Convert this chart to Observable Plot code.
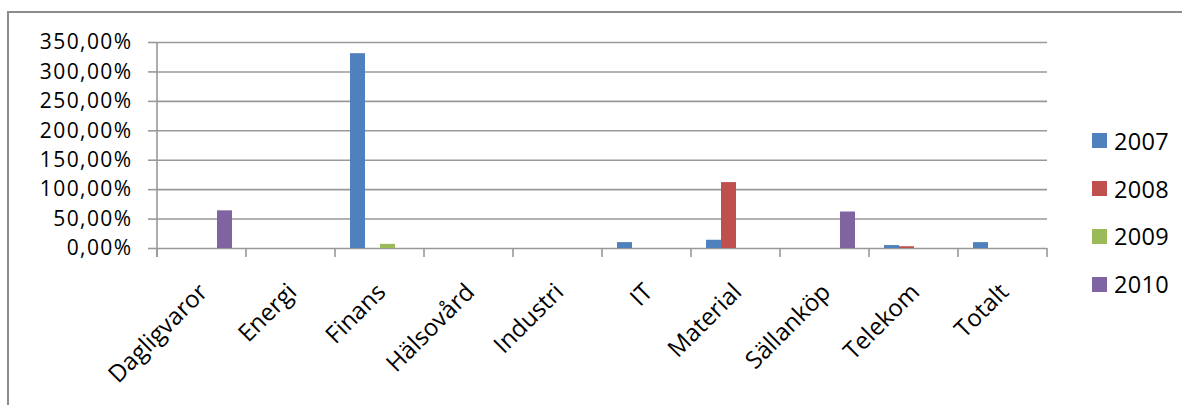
<!DOCTYPE html>
<html>
<head>
<meta charset="utf-8">
<script src="https://cdn.jsdelivr.net/npm/d3@7"></script>
<script src="https://cdn.jsdelivr.net/npm/@observablehq/plot@0.6"></script>
<style>
  html, body { margin: 0; padding: 0; background: #fff; overflow: hidden; }
  #wrap { position: relative; width: 1182px; height: 405px; overflow: hidden; font-family: "Open Sans", sans-serif; }
  #border { position: absolute; left: 7px; top: 11px; width: 1300px; height: 600px; border: 2px solid #8c8c8c; box-sizing: border-box; }
  #chart { position: absolute; left: 0; top: 0; }
  #legend { position: absolute; left: 1092px; top: 117px; }
  .item { display: flex; align-items: center; height: 47.8px; font-size: 23.5px; color: #000; letter-spacing: 0.3px; }
  .sw { width: 15px; height: 15px; margin-right: 7px; }
</style>
</head>
<body>
<div id="wrap">
  <div id="border"></div>
  <div id="chart"></div>
  <div id="legend"></div>
</div>
<script>
// Sectors on the category axis
const categories = ["Dagligvaror", "Energi", "Finans", "Hälsovård", "Industri", "IT", "Material", "Sällanköp", "Telekom", "Totalt"];
// Series (years) and their colours
const years = ["2007", "2008", "2009", "2010"];
const colors = ["#4F81BD", "#C0504D", "#9BBB59", "#8064A2"];
// Return per sector, in percent
const v2007 = [0, 0, 331, 0, 0, 10, 14, 0, 5, 10];
const v2008 = [0, 0, 0, 0, 0, 0, 112, 0, 3, 0];
const v2009 = [0, 0, 7, 0, 0, 0, 0, 0, 0, 0];
const v2010 = [64, 0, 0, 0, 0, 0, 0, 62, 0, 0];
// Value axis ticks
const yTicks = [0, 50, 100, 150, 200, 250, 300, 350];

const series = [v2007, v2008, v2009, v2010];
const rows = [];
series.forEach((vals, i) => vals.forEach((v, j) => rows.push({category: categories[j], year: years[i], value: v})));

const fmt = d => d.toFixed(2).replace(".", ",") + "%";
const gridColor = "#999999";

const plot = Plot.plot({
  width: 1182,
  height: 405,
  marginLeft: 156,
  marginRight: 134,
  marginTop: 42,
  marginBottom: 157,
  style: {fontFamily: "'Open Sans', sans-serif", background: "transparent", color: "#000"},
  fx: {domain: categories, padding: 0, axis: null, label: null},
  x: {domain: years, axis: null, paddingInner: 0, paddingOuter: 0.785},
  y: {domain: [0, 350], ticks: yTicks, tickFormat: fmt, tickSize: 9, tickPadding: 16, label: null},
  color: {domain: years, range: colors},
  marks: [
    Plot.ruleY(yTicks, {stroke: gridColor, strokeWidth: 1.6}),
    Plot.barY(rows, {fx: "category", x: "year", y: "value", fill: "year"}),
    Plot.text(categories, {
      fx: d => d,
      text: d => d,
      frameAnchor: "bottom",
      rotate: -45,
      textAnchor: "end",
      lineAnchor: "bottom",
      dx: 7,
      dy: 45,
      fontSize: 24,
      fill: "#000"
    })
  ]
});

document.getElementById("chart").appendChild(plot);

// Value axis styling
const svg = d3.select(plot);
svg.selectAll('g[aria-label^="y-axis"] text')
  .attr("font-size", 21)
  .style("font-size", "21px")
  .style("letter-spacing", "1.4px")
  .attr("fill", "#000");
svg.selectAll('g[aria-label^="y-axis"] path, g[aria-label^="y-axis"] line')
  .attr("stroke", gridColor)
  .attr("stroke-width", 1.6);

// Value axis line and category boundary ticks, placed with the plot's scales
const fx = plot.scale("fx");
const y = plot.scale("y");
const y0 = y.apply(0);
const yTop = y.apply(350);
const tickLen = 9;
const bounds = categories.map(c => fx.apply(c));
bounds.push(fx.apply(categories[categories.length - 1]) + fx.bandwidth);
const g = svg.append("g").attr("stroke", gridColor).attr("stroke-width", 1.6);
g.append("line").attr("x1", bounds[0]).attr("x2", bounds[0]).attr("y1", yTop).attr("y2", y0 + tickLen);
g.selectAll("line.b").data(bounds).join("line")
  .attr("class", "b")
  .attr("x1", d => d).attr("x2", d => d)
  .attr("y1", y0).attr("y2", y0 + tickLen);

// Legend
const legend = d3.select("#legend");
years.forEach((yr, i) => {
  const item = legend.append("div").attr("class", "item");
  item.append("div").attr("class", "sw").style("background", colors[i]);
  item.append("span").text(yr);
});
</script>
</body>
</html>
